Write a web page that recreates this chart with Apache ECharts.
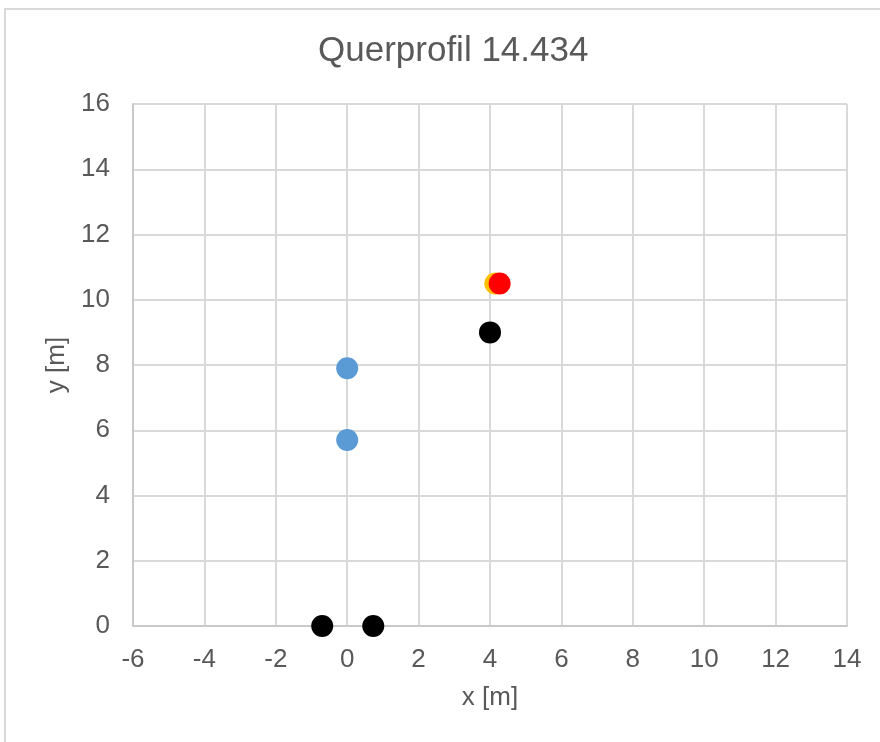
<!DOCTYPE html>
<html>
<head>
<meta charset="utf-8">
<script src="https://cdn.jsdelivr.net/npm/echarts@6/dist/echarts.min.js"></script>
<style>
html,body{margin:0;padding:0;background:#fff;}
#c{width:880px;height:742px;}
</style>
</head>
<body>
<div id="c"></div>
<script>
// Data
const titleText = 'Querprofil 14.434';
const xName = 'x [m]';
const yName = 'y [m]';
const blackX = [-0.7, 0.73, 4.0];
const blackY = [0, 0, 9.0];
const blueX = [0, 0];
const blueY = [7.9, 5.7];
const orangeX = [4.15];
const orangeY = [10.5];
const redX = [4.27];
const redY = [10.5];

const zip = (xs, ys) => xs.map((x, i) => [x, ys[i]]);

const font = 'Liberation Sans, Arial, sans-serif';
const chart = echarts.init(document.getElementById('c'), null, {renderer: 'canvas'});
chart.setOption({
  animation: false,
  backgroundColor: '#ffffff',
  graphic: [{
    type: 'rect', silent: true, z: -1,
    shape: {x: 5, y: 9, width: 900, height: 800},
    style: {fill: 'none', stroke: '#d9d9d9', lineWidth: 2}
  }],
  title: {
    text: titleText, left: 313, top: 29,
    textStyle: {fontFamily: font, fontSize: 35, fontWeight: 'normal', color: '#595959'}
  },
  grid: {left: 133, right: 33, top: 104, bottom: 116, containLabel: false},
  xAxis: {
    type: 'value', min: -6, max: 14, interval: 2,
    name: xName, nameLocation: 'middle', nameGap: 59,
    nameTextStyle: {fontFamily: font, fontSize: 26, color: '#595959'},
    axisLine: {show: true, onZero: false, lineStyle: {color: '#c9c9c9', width: 2}},
    axisTick: {show: false},
    axisLabel: {fontFamily: font, fontSize: 26, color: '#595959', margin: 21},
    splitLine: {show: true, lineStyle: {color: '#d9d9d9', width: 2}}
  },
  yAxis: {
    type: 'value', min: 0, max: 16, interval: 2,
    name: yName, nameLocation: 'middle', nameGap: 63, nameRotate: 90,
    nameTextStyle: {fontFamily: font, fontSize: 26, color: '#595959'},
    axisLine: {show: true, onZero: false, lineStyle: {color: '#c9c9c9', width: 2}},
    axisTick: {show: false},
    axisLabel: {fontFamily: font, fontSize: 26, color: '#595959', margin: 23},
    splitLine: {show: true, lineStyle: {color: '#d9d9d9', width: 2}}
  },
  series: [
    {type: 'scatter', data: zip(blueX, blueY), symbolSize: 22, itemStyle: {color: '#5b9bd5', opacity: 1}},
    {type: 'scatter', data: zip(blackX, blackY), symbolSize: 22, itemStyle: {color: '#000000', opacity: 1}},
    {type: 'scatter', data: zip(orangeX, orangeY), symbolSize: 22, itemStyle: {color: '#ffc000', opacity: 1}},
    {type: 'scatter', data: zip(redX, redY), symbolSize: 22, itemStyle: {color: '#ff0000', opacity: 1}}
  ]
});
</script>
</body>
</html>
